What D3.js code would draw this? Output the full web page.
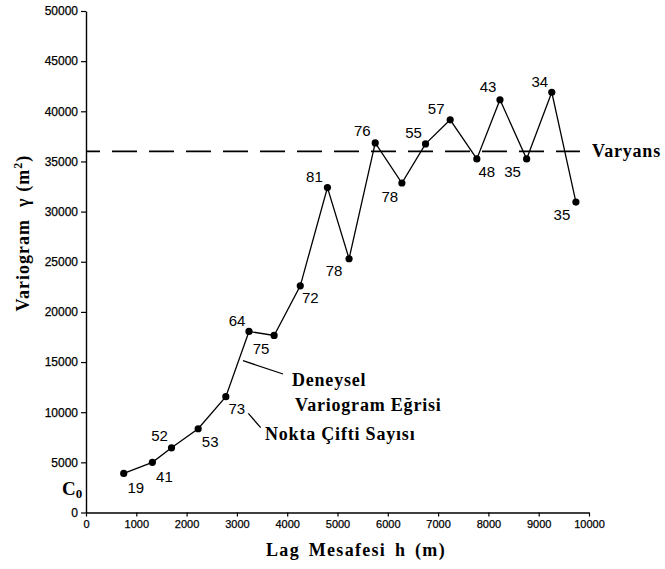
<!DOCTYPE html>
<html><head><meta charset="utf-8">
<script src="https://cdn.jsdelivr.net/npm/d3@7"></script>
<style>
html,body{margin:0;padding:0;background:#fff;}
svg{display:block;}
</style>
</head><body>
<svg id="chart" width="665" height="569"></svg>
<script>
// ---- data ----
const lagDistance = [750, 1320, 1700, 2230, 2780, 3240, 3740, 4260, 4800, 5230, 5750, 6280, 6750, 7240, 7770, 8230, 8760, 9260, 9740];
const variogramValues = [3900, 5000, 6450, 8350, 11550, 18050, 17650, 22600, 32400, 25300, 36850, 32850, 36750, 39150, 35250, 41150, 35250, 41900, 30950];
const pairCounts = [19, 41, 52, 53, 73, 64, 75, 72, 81, 78, 76, 78, 55, 57, 48, 43, 35, 34, 35];
const varianceValue = 36000;
const xTicks = [0, 1000, 2000, 3000, 4000, 5000, 6000, 7000, 8000, 9000, 10000];
const yTicks = [0, 5000, 10000, 15000, 20000, 25000, 30000, 35000, 40000, 45000, 50000];

// label placement (pixel offsets from each point) - layout only
const labelOffsets = [[12,14],[12,14],[-12,-12],[12,13],[11,12],[-12,-11],[-13,13],[10,12],[-13,-11],[-15,12],[-13,-12],[-12,13],[-12,-11],[-14,-11],[10,13],[-12,-13],[-14,13],[-12,-11],[-14,12]];

const svg = d3.select("#chart");
const x = d3.scaleLinear().domain([0, 10000]).range([86, 589]);
const y = d3.scaleLinear().domain([0, 50000]).range([512.5, 11]);

const serif = "'Liberation Serif','Times New Roman',serif";
const sans = "'Liberation Sans',Arial,sans-serif";

// axes
const xAxis = d3.axisBottom(x).tickValues(xTicks).tickFormat(d3.format("d")).tickSize(4).tickPadding(4).tickSizeOuter(0);
const yAxis = d3.axisLeft(y).tickValues(yTicks).tickFormat(d3.format("d")).tickSize(5).tickPadding(3).tickSizeOuter(0);

const gx = svg.append("g").attr("transform", `translate(0,${y(0)})`).call(xAxis);
gx.selectAll("text").attr("font-family", sans).attr("font-size", 11).attr("fill", "#000").attr("stroke", "#000").attr("stroke-width", 0.25);
const gy = svg.append("g").attr("transform", `translate(${x(0)},0)`).call(yAxis);
gy.selectAll("text").attr("font-family", sans).attr("font-size", 12).attr("fill", "#000").attr("stroke", "#000").attr("stroke-width", 0.25);
[gx, gy].forEach(g => {
  g.select(".domain").attr("stroke", "#000").attr("stroke-width", 1.4);
  g.selectAll(".tick line").attr("stroke", "#000").attr("stroke-width", 1.2);
});

// variance dashed line
svg.append("line")
  .attr("x1", x(0)).attr("x2", x(9820))
  .attr("y1", y(varianceValue)).attr("y2", y(varianceValue))
  .attr("stroke", "#000").attr("stroke-width", 1.8)
  .attr("stroke-dasharray", "25,12").attr("stroke-dashoffset", 11);

// experimental variogram line
const pts = lagDistance.map((d, i) => ({x: d, y: variogramValues[i], n: pairCounts[i], o: labelOffsets[i]}));
svg.append("path").datum(pts)
  .attr("fill", "none").attr("stroke", "#000").attr("stroke-width", 1.3)
  .attr("d", d3.line().x(d => x(d.x)).y(d => y(d.y)));

svg.append("g").selectAll("circle").data(pts).join("circle")
  .attr("cx", d => x(d.x)).attr("cy", d => y(d.y)).attr("r", 3.6).attr("fill", "#000");

svg.append("g").selectAll("text").data(pts).join("text")
  .attr("x", d => x(d.x) + d.o[0]).attr("y", d => y(d.y) + d.o[1])
  .attr("text-anchor", "middle").attr("dominant-baseline", "central")
  .attr("font-family", sans).attr("font-size", 15).attr("fill", "#000")
  .text(d => d.n);

// annotations (data coordinates)
const annoStyle = sel => sel.attr("font-family", serif).attr("font-weight", "bold").attr("font-size", 18).attr("letter-spacing", 0.8).attr("fill", "#000");
svg.append("text").attr("x", x(10060)).attr("y", y(35443)).text("Varyans").call(annoStyle);
svg.append("text").attr("x", x(4095)).attr("y", y(12612)).text("Deneysel").call(annoStyle);
svg.append("text").attr("x", x(4155)).attr("y", y(10120)).text("Variogram Eğrisi").call(annoStyle);
svg.append("text").attr("x", x(3559)).attr("y", y(7230)).text("Nokta Çifti Sayısı").call(annoStyle);

svg.append("line").attr("x1", x(3121)).attr("y1", y(15135)).attr("x2", x(3917)).attr("y2", y(13808)).attr("stroke", "#000").attr("stroke-width", 1.3);
svg.append("line").attr("x1", x(3227)).attr("y1", y(9890)).attr("x2", x(3473)).attr("y2", y(8455)).attr("stroke", "#000").attr("stroke-width", 1.3);

// C0
const c0 = svg.append("text").attr("x", x(-477)).attr("y", y(1745)).attr("font-family", serif).attr("font-weight", "bold").attr("fill", "#000");
c0.append("tspan").attr("font-size", 19).text("C");
c0.append("tspan").attr("font-size", 13).attr("dy", 3).text("0");

// axis titles
svg.append("text").attr("x", 356).attr("y", 556).attr("text-anchor", "middle")
  .attr("font-family", serif).attr("font-weight", "bold").attr("font-size", 18)
  .attr("letter-spacing", 1.3).attr("word-spacing", 3).attr("fill", "#000")
  .text("Lag Mesafesi h (m)");

const yt = svg.append("text").attr("transform", "translate(29,233) rotate(-90)").attr("text-anchor", "middle")
  .attr("font-family", serif).attr("font-weight", "bold").attr("font-size", 18).attr("letter-spacing", 1).attr("fill", "#000");
yt.append("tspan").text("Variogram");
yt.append("tspan").attr("dx", 12).text("γ");
yt.append("tspan").attr("dx", 6).text("(m");
yt.append("tspan").attr("font-size", 12).attr("dy", -7).text("2");
yt.append("tspan").attr("dy", 7).text(")");
</script>
</body></html>
